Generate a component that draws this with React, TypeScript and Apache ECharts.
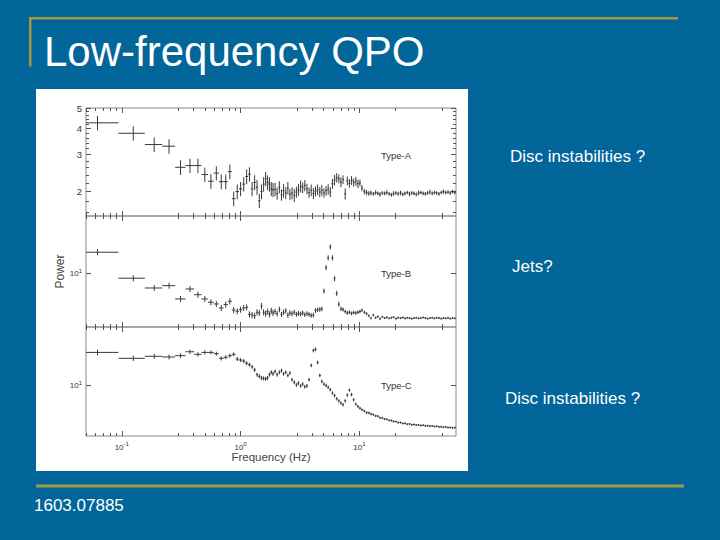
import React, { useEffect, useRef } from 'react';
import * as echarts from 'echarts';

// ---------- data ----------
const freqLow = [0.0625, 0.125, 0.1875, 0.25, 0.3125, 0.375, 0.4375, 0.5, 0.5625, 0.625, 0.6875, 0.75, 0.8125, 0.875, 0.9375, 1.0, 1.0625, 1.125, 1.1875, 1.25, 1.3125, 1.375, 1.4375, 1.5, 1.5625, 1.625, 1.6875, 1.75, 1.8125, 1.875];
const freqHigh = [1.95, 2.03, 2.12, 2.21, 2.3, 2.4, 2.5, 2.6, 2.71, 2.83, 2.95, 3.07, 3.2, 3.33, 3.47, 3.62, 3.77, 3.93, 4.1, 4.27, 4.45, 4.64, 4.83, 5.03, 5.24, 5.46, 5.69, 5.93, 6.18, 6.44, 6.71, 6.99, 7.28, 7.59, 7.91, 8.24, 8.59, 8.95, 9.33, 9.72, 10.1, 10.5, 11.0, 11.5, 12.0, 12.5, 13.1, 13.7, 14.3, 14.9, 15.6, 16.3, 17.0, 17.8, 18.6, 19.4, 20.3, 21.2, 22.2, 23.2, 24.2, 25.3, 26.4, 27.6, 28.8, 30.1, 31.5, 32.9, 34.4, 35.9, 37.5, 39.2, 41.0, 42.8, 44.7, 46.7, 48.8, 51.0, 53.3, 55.7, 58.2, 60.8, 63.5];
const frequencies = [...freqLow, ...freqHigh];
const BIN_HALF_WIDTH = 1 / 32;

const powerA = [
  4.25, 3.79, 3.35, 3.29, 2.61, 2.66, 2.66, 2.41, 2.24, 2.45, 2.23, 2.23, 2.49, 1.85, 2.0, 2.06, 2.17, 2.36, 2.42, 2.06, 2.21, 2.10, 1.81, 2.0, 2.17, 2.30, 2.21, 2.17, 2.06, 2.04,
  2.05, 1.96, 2.10, 1.93, 2.02, 1.97, 2.08, 1.94,
  1.97, 1.92, 1.99, 2.04,
  2.12, 2.09, 2.14, 2.06,
  1.98, 2.03, 1.96, 2.01, 2.04,
  1.99, 2.03, 1.97, 2.02, 2.05, 1.99,
  2.18, 2.27, 2.33, 2.30, 2.22, 2.28, 1.95, 2.25, 2.19, 2.26, 2.21, 2.24, 2.18, 2.20,
  2.08, 2.0, 1.98, 1.96,
  1.97, 1.95, 1.98, 1.96, 1.94, 1.97, 1.96, 1.98, 1.95, 1.93, 1.96, 1.97, 1.95, 1.97, 1.94, 1.96, 1.98, 1.95, 1.97, 1.96, 1.94, 1.97, 1.98, 1.96, 1.95, 1.97, 1.99, 1.96, 1.98, 1.97, 1.95, 1.98, 2.00, 1.98, 1.99, 1.97, 2.00, 1.98, 1.99,
];
const errA = [
  0.34, 0.30, 0.27, 0.26, 0.21, 0.21, 0.21, 0.19, 0.18, 0.19, 0.18, 0.18, 0.20, 0.15, 0.16, 0.16, 0.17, 0.19, 0.19, 0.16, 0.18, 0.17, 0.14, 0.16, 0.17, 0.18, 0.18, 0.17, 0.16, 0.16,
  0.15, 0.13, 0.14, 0.12, 0.15, 0.13, 0.14, 0.12, 0.13, 0.14,
  0.12, 0.13, 0.14, 0.12, 0.13, 0.12, 0.11, 0.13, 0.12, 0.11,
  0.12, 0.11, 0.12, 0.10, 0.11, 0.12, 0.11, 0.12, 0.13, 0.12,
  0.11, 0.12, 0.11, 0.12, 0.11, 0.10, 0.11, 0.10, 0.11, 0.10,
  0.08, 0.07, 0.06, 0.06,
  0.05, 0.05, 0.04, 0.05, 0.04, 0.05, 0.04, 0.04, 0.05, 0.04,
  0.04, 0.05, 0.04, 0.04, 0.05, 0.04, 0.04, 0.04, 0.05, 0.04,
  0.04, 0.04, 0.05, 0.04, 0.04, 0.04, 0.04, 0.05, 0.04, 0.04,
  0.04, 0.04, 0.04, 0.05, 0.04, 0.04, 0.04, 0.04, 0.04,
];

const powerB = [
  12.55, 9.44, 8.48, 8.70, 7.52, 8.39, 7.88, 7.52, 7.25, 7.12, 6.81, 7.07, 7.33, 6.66, 6.57, 6.69, 6.81, 6.86, 6.35, 6.30, 6.25, 6.50, 6.45, 6.95, 6.50, 6.40, 6.55, 6.35, 6.60, 6.45,
  6.55, 6.4, 6.7, 6.35, 6.5, 6.6, 6.3, 6.45,
  6.4, 6.5, 6.35, 6.42, 6.38, 6.45, 6.33, 6.4,
  6.35, 6.28, 6.3, 6.62, 6.68, 6.7,
  6.75,
  8.2, 10.6, 11.8, 13.3, 11.8, 9.4, 8.0, 7.1, 6.75,
  6.7, 6.55, 6.45, 6.5, 6.42, 6.48, 6.45, 6.5,
  6.55, 6.65, 6.5, 6.4,
  6.25, 6.1, 6.3, 6.12, 6.2, 6.05, 6.18, 6.1, 6.15, 6.08, 6.12, 6.16, 6.06, 6.12, 6.1, 6.14, 6.08, 6.12, 6.1, 6.06, 6.1, 6.12, 6.08, 6.1, 6.14, 6.1, 6.06, 6.1, 6.12, 6.08, 6.12, 6.1, 6.06, 6.1, 6.08, 6.12, 6.06, 6.1, 6.08,
];
const errB = [
  0.42, 0.32, 0.28, 0.29, 0.25, 0.28, 0.26, 0.25, 0.24, 0.24, 0.23, 0.24, 0.25, 0.23, 0.22, 0.22, 0.23, 0.23, 0.22, 0.22, 0.21, 0.22, 0.22, 0.24, 0.22, 0.22, 0.22, 0.21, 0.22, 0.22,
  0.2, 0.19, 0.2, 0.18, 0.19, 0.2, 0.18, 0.19, 0.18, 0.18, 0.17, 0.18, 0.17, 0.17, 0.16, 0.17, 0.16, 0.16, 0.16, 0.17, 0.17, 0.17,
  0.17, 0.22, 0.3, 0.33, 0.36, 0.33, 0.27, 0.22, 0.19, 0.17,
  0.15, 0.14, 0.14, 0.14, 0.13, 0.13, 0.13, 0.13, 0.12, 0.12, 0.11, 0.11,
  0.09, 0.08, 0.09, 0.08, 0.08, 0.08, 0.08, 0.07, 0.08, 0.07,
  0.07, 0.07, 0.07, 0.07, 0.07, 0.06, 0.07, 0.06, 0.06, 0.06,
  0.06, 0.06, 0.06, 0.06, 0.06, 0.06, 0.05, 0.06, 0.05, 0.05,
  0.05, 0.05, 0.05, 0.05, 0.05, 0.05, 0.05, 0.05, 0.05,
];

const powerC = [
  14.3, 13.4, 13.7, 13.6, 13.8, 14.4, 14.0, 14.3, 14.3, 14.1, 13.4, 13.55, 13.8, 14.0, 13.3, 13.15, 13.0, 12.7, 12.5, 12.2, 11.8, 11.2, 11.0, 10.8, 10.75, 10.7, 10.8, 11.2, 11.5, 11.3,
  11.6, 11.2, 11.5, 11.7, 11.3, 11.5, 11.1, 11.4,
  10.6, 10.3, 10.0, 10.2, 9.9, 10.1, 9.8, 9.9,
  10.6, 12.4, 14.6, 14.8, 12.8, 11.1,
  10.4, 10.1, 9.95, 9.75, 9.5, 9.15, 8.9, 8.6, 8.4, 8.2,
  8.05, 8.4, 8.95, 9.45, 9.0, 8.5, 8.1, 7.9,
  7.75, 7.62, 7.52, 7.38, 7.36, 7.27, 7.22, 7.12, 7.1, 6.98,
  6.96, 6.88, 6.86, 6.78, 6.77, 6.7, 6.69, 6.61, 6.62, 6.55,
  6.56, 6.5, 6.52, 6.46, 6.48, 6.44, 6.45, 6.41, 6.43, 6.39,
  6.39, 6.36, 6.38, 6.34, 6.35, 6.31, 6.32, 6.29, 6.3, 6.26,
  6.27, 6.24, 6.26,
];
const errC = [
  0.45, 0.4, 0.38, 0.36, 0.35, 0.35, 0.33, 0.33, 0.32, 0.31, 0.3, 0.3, 0.3, 0.3, 0.29, 0.28, 0.28, 0.27, 0.27, 0.26, 0.26, 0.25, 0.25, 0.25, 0.24, 0.24, 0.24, 0.25, 0.25, 0.25,
  0.25, 0.24, 0.25, 0.25, 0.24, 0.24, 0.23, 0.24, 0.22, 0.22, 0.21, 0.21, 0.2, 0.21, 0.2, 0.2, 0.21,
  0.25, 0.3, 0.3, 0.26, 0.22,
  0.2, 0.19, 0.19, 0.18, 0.18, 0.17, 0.17, 0.16, 0.16, 0.15, 0.15, 0.16, 0.17, 0.17, 0.16, 0.15, 0.14, 0.13,
  0.12, 0.12, 0.11, 0.11, 0.1, 0.1, 0.1, 0.09, 0.09, 0.09,
  0.09, 0.08, 0.08, 0.08, 0.08, 0.08, 0.07, 0.07, 0.07, 0.07,
  0.07, 0.07, 0.07, 0.06, 0.06, 0.06, 0.06, 0.06, 0.06, 0.06,
  0.06, 0.06, 0.06, 0.05, 0.05, 0.05, 0.05, 0.05, 0.05, 0.05,
  0.05, 0.05, 0.05,
];

const panelNames = ['Type-A', 'Type-B', 'Type-C'];
const panelPowers = [powerA, powerB, powerC];
const panelErrors = [errA, errB, errC];
const panelYRanges = [[1.53, 5], [5.53, 18.67], [5.71, 18.9]];

const xRange = [0.05, 65];
const xMajorTicks = [0.1, 1, 10];
const xMinorTicks = [0.05, 0.06, 0.07, 0.08, 0.09, 0.3, 0.4, 0.5, 0.6, 0.7, 0.8, 0.9, 3, 4, 5, 6, 7, 8, 9, 20, 50];
const yMajorTicksA = [2, 3, 4, 5];
const yMinorTicksA = [1.6, 1.8, 2.2, 2.4, 2.6, 2.8, 3.2, 3.4, 3.6, 3.8, 4.2, 4.4, 4.6, 4.8];
const yMajorTicksBC = [10];

const slideTitle = 'Low-frequency QPO';
const footerText = '1603.07885';
const sideNotes = ['Disc instabilities ?', 'Jets?', 'Disc instabilities ?'];
const xAxisTitle = 'Frequency (Hz)';
const yAxisTitle = 'Power';

// ---------- layout / style ----------
const FONT = 'Liberation Sans, Arial, sans-serif';
const BLUE = '#02669a';
const GOLD = '#a39a40';
const INK = '#333';
const TICK = '#555';
const gridTops = [108, 216, 327];
const gridHeights = [108, 111, 109];
const GRID_LEFT = 86;
const GRID_WIDTH = 370;
const panelLabelY = [155, 273, 385];
const sideNoteX = [510, 512, 505];
const sideNoteY = [156, 266, 398];

const powRich = {
  b: { fontSize: 8, color: INK, fontFamily: FONT, verticalAlign: 'bottom' },
  s: { fontSize: 6, color: INK, fontFamily: FONT, verticalAlign: 'bottom', padding: [0, 0, 4, 0] },
};
const powFormatter = (v: number) => `{b|10}{s|${Math.round(Math.log10(v))}}`;

function xAxisDef(gi: number, position: string, ticks: number[], len: number, showLabel: boolean, name?: string) {
  return {
    type: 'log',
    gridIndex: gi,
    position,
    min: xRange[0],
    max: xRange[1],
    axisLine: { show: false },
    splitLine: { show: false },
    minorTick: { show: false },
    axisTick: { show: true, inside: true, length: len, customValues: ticks, lineStyle: { color: TICK, width: 1 } },
    axisLabel: showLabel
      ? { show: true, customValues: ticks, formatter: powFormatter, rich: powRich, margin: 5 }
      : { show: false },
    name: name || '',
    nameLocation: 'middle',
    nameGap: 15,
    nameMoveOverlap: false,
    nameTextStyle: { fontSize: 11.5, color: '#444', fontFamily: FONT },
  };
}

function yAxisDef(gi: number, position: string, ticks: number[], len: number, label: any, name?: string) {
  const [mn, mx] = panelYRanges[gi];
  return {
    type: 'log',
    gridIndex: gi,
    position,
    min: mn,
    max: mx,
    axisLine: { show: false },
    splitLine: { show: false },
    minorTick: { show: false },
    axisTick: ticks.length
      ? { show: true, inside: true, length: len, customValues: ticks, lineStyle: { color: TICK, width: 1 } }
      : { show: false },
    axisLabel: label ? { show: true, customValues: ticks, margin: 4, ...label } : { show: false },
    name: name || '',
    nameLocation: 'middle',
    nameGap: 20,
    nameMoveOverlap: false,
    nameTextStyle: { fontSize: 12, color: '#444', fontFamily: FONT },
  };
}

export default function App() {
  const ref = useRef<HTMLDivElement>(null);

  useEffect(() => {
    if (!ref.current) return;
    const chart = echarts.init(ref.current, null, { renderer: 'svg' });

    const grids = gridTops.map((t, i) => ({
      left: GRID_LEFT,
      top: t,
      width: GRID_WIDTH,
      height: gridHeights[i],
      show: true,
      borderColor: '#8a8a8a',
      borderWidth: 1,
      backgroundColor: 'transparent',
      containLabel: false,
      outerBoundsMode: 'none',
    }));

    const xAxes: any[] = [];
    const yAxes: any[] = [];
    for (let i = 0; i < 3; i++) {
      xAxes.push(xAxisDef(i, 'bottom', xMajorTicks, 5, i === 2, i === 2 ? xAxisTitle : ''));
      xAxes.push(xAxisDef(i, 'bottom', xMinorTicks, 3, false));
      xAxes.push(xAxisDef(i, 'top', xMajorTicks, 5, false));
      xAxes.push(xAxisDef(i, 'top', xMinorTicks, 3, false));
      const major = i === 0 ? yMajorTicksA : yMajorTicksBC;
      const minor = i === 0 ? yMinorTicksA : [];
      const label =
        i === 0
          ? { fontSize: 9.5, color: INK, fontFamily: FONT }
          : { formatter: powFormatter, rich: powRich };
      yAxes.push(yAxisDef(i, 'left', major, 5, label, i === 1 ? yAxisTitle : ''));
      yAxes.push(yAxisDef(i, 'left', minor, 3, null));
      yAxes.push(yAxisDef(i, 'right', major, 5, null));
      yAxes.push(yAxisDef(i, 'right', minor, 3, null));
    }

    const series = panelPowers.map((powers, i) => ({
      type: 'custom',
      name: panelNames[i],
      xAxisIndex: i * 4,
      yAxisIndex: i * 4,
      clip: true,
      encode: { x: 0, y: 1 },
      data: frequencies.map((f, k) => [f, powers[k], panelErrors[i][k]]),
      renderItem: (params: any, api: any) => {
        const f = api.value(0);
        const p = api.value(1);
        const e = api.value(2) || 0;
        const c = api.coord([f, p]);
        const l = api.coord([f - BIN_HALF_WIDTH, p]);
        const r = api.coord([f + BIN_HALF_WIDTH, p]);
        const t = api.coord([f, p + e]);
        const b = api.coord([f, p - e]);
        const x0 = Math.min(l[0], c[0] - 1);
        const x1 = Math.max(r[0], c[0] + 1);
        const y0 = Math.min(t[1], c[1] - 1);
        const y1 = Math.max(b[1], c[1] + 1);
        const style = { stroke: '#3a3a3a', lineWidth: 1 };
        return {
          type: 'group',
          children: [
            { type: 'line', shape: { x1: x0, y1: c[1], x2: x1, y2: c[1] }, style },
            { type: 'line', shape: { x1: c[0], y1: y0, x2: c[0], y2: y1 }, style },
          ],
        };
      },
    }));

    const textEl = (text: string, x: number, y: number, size: number, fill: string, extra: any = {}) => ({
      type: 'text',
      x,
      y,
      silent: true,
      style: { text, fill, fontSize: size, fontFamily: FONT, verticalAlign: 'middle', align: 'left', ...extra },
    });

    const graphic: any[] = [
      { type: 'rect', z: -10, silent: true, shape: { x: 36, y: 89, width: 432, height: 382 }, style: { fill: '#ffffff' } },
      { type: 'rect', silent: true, shape: { x: 29, y: 17, width: 649, height: 2.5 }, style: { fill: GOLD } },
      { type: 'rect', silent: true, shape: { x: 29, y: 17, width: 2.5, height: 49.5 }, style: { fill: GOLD } },
      { type: 'rect', silent: true, shape: { x: 36, y: 484.5, width: 648, height: 3 }, style: { fill: GOLD } },
      textEl(slideTitle, 44, 51, 42, '#ffffff'),
      textEl(footerText, 34, 505, 17, '#ffffff'),
      ...sideNotes.map((s, i) => textEl(s, sideNoteX[i], sideNoteY[i], 17, '#ffffff')),
      ...panelNames.map((s, i) => textEl(s, 381, panelLabelY[i], 9.5, INK)),
    ];

    chart.setOption({
      animation: false,
      backgroundColor: BLUE,
      grid: grids,
      xAxis: xAxes,
      yAxis: yAxes,
      series,
      graphic,
    });

    return () => chart.dispose();
  }, []);

  return <div ref={ref} style={{ position: 'absolute', left: 0, top: 0, width: 720, height: 540 }} />;
}
